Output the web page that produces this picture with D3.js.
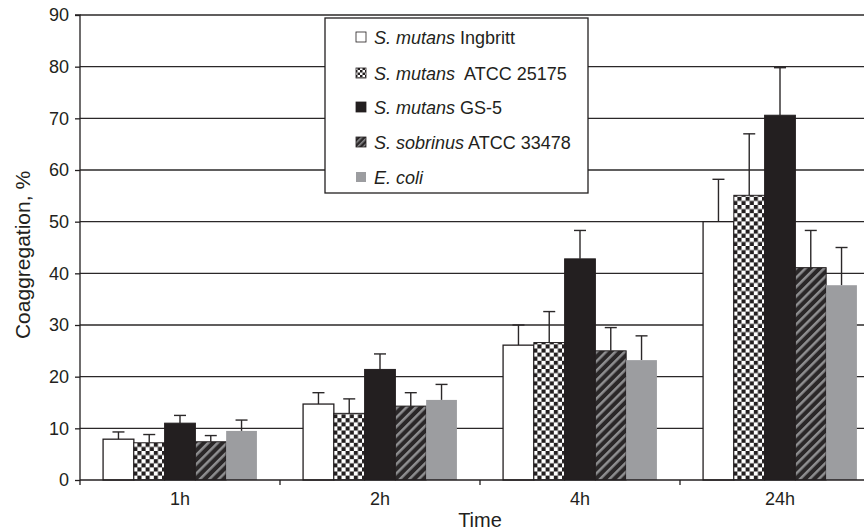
<!DOCTYPE html>
<html>
<head>
<meta charset="utf-8">
<script src="https://cdn.jsdelivr.net/npm/d3@7"></script>
<style>
  html, body { margin: 0; padding: 0; background: #fff; }
  svg { display: block; font-family: "Liberation Sans", Arial, sans-serif; }
  text { fill: #231f20; }
</style>
</head>
<body>
<svg id="chart" width="864" height="530"></svg>
<script>
// ---- data ----
const categories = ["1h", "2h", "4h", "24h"];
const seriesNames = ["S. mutans Ingbritt", "S. mutans ATCC 25175", "S. mutans GS-5", "S. sobrinus ATCC 33478", "E. coli"];
const ingbritt     = [7.9, 14.7, 26.1, 50.0];
const ingbrittSD   = [1.4, 2.2, 3.9, 8.2];
const atcc25175    = [7.2, 12.9, 26.6, 55.1];
const atcc25175SD  = [1.6, 2.8, 6.0, 11.9];
const gs5          = [11.0, 21.4, 42.8, 70.6];
const gs5SD        = [1.5, 3.0, 5.5, 9.2];
const sobrinus     = [7.4, 14.3, 25.0, 41.1];
const sobrinusSD   = [1.2, 2.6, 4.5, 7.2];
const ecoli        = [9.5, 15.5, 23.2, 37.7];
const ecoliSD      = [2.1, 3.0, 4.7, 7.3];
const yTicks = [0, 10, 20, 30, 40, 50, 60, 70, 80, 90];

const seriesValues = [ingbritt, atcc25175, gs5, sobrinus, ecoli];
const seriesSD = [ingbrittSD, atcc25175SD, gs5SD, sobrinusSD, ecoliSD];
const fills = ["#ffffff", "url(#checker)", "#231f20", "url(#stripes)", "#9c9da0"];
const legendFills = ["#ffffff", "url(#checkerS)", "#231f20", "url(#stripesS)", "#9c9da0"];
const legendLabels = [
  ["S. mutans", " Ingbritt"],
  ["S. mutans", "  ATCC 25175"],
  ["S. mutans", " GS-5"],
  ["S. sobrinus", " ATCC 33478"],
  ["E. coli", ""]
];

const svg = d3.select("#chart");
const margin = {left: 80, top: 15, bottom: 50};
const height = 530;
const y = d3.scaleLinear().domain([0, 90]).range([height - margin.bottom, margin.top]);
const x0 = d3.scaleBand().domain(categories).range([80, 880]).paddingInner(0).paddingOuter(0);
const x1 = d3.scaleBand().domain(d3.range(seriesNames.length)).range([0, x0.bandwidth()]).paddingInner(0).paddingOuter(0.75);

// ---- patterns ----
const defs = svg.append("defs");
function checker(id, size) {
  const p = defs.append("pattern").attr("id", id).attr("patternUnits", "userSpaceOnUse")
    .attr("width", size * 2).attr("height", size * 2);
  p.append("rect").attr("width", size * 2).attr("height", size * 2).attr("fill", "#fff");
  p.append("rect").attr("x", 0).attr("y", 0).attr("width", size).attr("height", size).attr("fill", "#231f20");
  p.append("rect").attr("x", size).attr("y", size).attr("width", size).attr("height", size).attr("fill", "#231f20");
}
function stripes(id, w) {
  const p = defs.append("pattern").attr("id", id).attr("patternUnits", "userSpaceOnUse")
    .attr("width", w).attr("height", w).attr("patternTransform", "rotate(45)");
  p.append("rect").attr("width", w).attr("height", w).attr("fill", "#2a2728");
  p.append("rect").attr("x", 0).attr("y", 0).attr("width", w * 0.38).attr("height", w).attr("fill", "#8e8e90");
}
checker("checker", 4.1);
stripes("stripes", 6.6);
checker("checkerS", 2.5);
stripes("stripesS", 4);

// ---- gridlines ----
svg.append("g").selectAll("line").data(yTicks.filter(d => d > 0)).join("line")
  .attr("x1", 80).attr("x2", 864)
  .attr("y1", d => y(d)).attr("y2", d => y(d))
  .attr("stroke", "#2b2829").attr("stroke-width", 1.3);

// ---- bars ----
const groups = svg.append("g").selectAll("g").data(categories).join("g")
  .attr("transform", d => `translate(${x0(d)},0)`);

groups.each(function(cat, ci) {
  const g = d3.select(this);
  seriesNames.forEach((s, si) => {
    const v = seriesValues[si][ci];
    const sd = seriesSD[si][ci];
    const bx = x1(si), bw = x1.bandwidth();
    const cx = bx + bw / 2;
    // error bar (upward only)
    g.append("line").attr("x1", cx).attr("x2", cx).attr("y1", y(v)).attr("y2", y(v + sd))
      .attr("stroke", "#2b2829").attr("stroke-width", 1.4);
    g.append("line").attr("x1", cx - 6).attr("x2", cx + 6).attr("y1", y(v + sd)).attr("y2", y(v + sd))
      .attr("stroke", "#2b2829").attr("stroke-width", 1.4);
    g.append("rect").attr("x", bx).attr("y", y(v)).attr("width", bw).attr("height", y(0) - y(v))
      .attr("fill", fills[si])
      .attr("stroke", si === 4 ? "none" : "#231f20")
      .attr("stroke-width", si === 0 ? 1.3 : 1);
  });
});

// ---- axes ----
const yAxis = d3.axisLeft(y).tickValues(yTicks).tickSize(5).tickPadding(6);
const gy = svg.append("g").attr("transform", "translate(80,0)").call(yAxis);
gy.selectAll("text").style("font-size", "18px").attr("fill", "#231f20");
gy.selectAll("line, path").attr("stroke", "#231f20").attr("stroke-width", 1.3);
gy.select("path").attr("d", `M-5,${y(90)}H0V${y(0) + 5}`);

const xAxis = d3.axisBottom(x0).tickSize(0).tickPadding(12);
const gx = svg.append("g").attr("transform", `translate(0,${y(0)})`).call(xAxis);
gx.select("path").remove();
gx.selectAll("text").style("font-size", "18px").attr("fill", "#231f20");
svg.append("line").attr("x1", 80).attr("x2", 864).attr("y1", y(0)).attr("y2", y(0))
  .attr("stroke", "#231f20").attr("stroke-width", 1.3);
// group separator ticks
svg.append("g").selectAll("line").data(categories.slice(1)).join("line")
  .attr("x1", d => x0(d)).attr("x2", d => x0(d))
  .attr("y1", y(0)).attr("y2", y(0) + 5)
  .attr("stroke", "#231f20").attr("stroke-width", 1.3);

// axis titles
svg.append("text").attr("x", 480).attr("y", 527).attr("text-anchor", "middle")
  .style("font-size", "20px").text("Time");
svg.append("text").attr("transform", "translate(30,255) rotate(-90)").attr("text-anchor", "middle")
  .style("font-size", "21px").text("Coaggregation, %");

// ---- legend ----
const lg = svg.append("g");
lg.append("rect").attr("x", 325).attr("y", 18).attr("width", 263).attr("height", 175)
  .attr("fill", "#fff").attr("stroke", "#231f20").attr("stroke-width", 1.3);
const rowY = [37, 73, 107, 142, 177];
legendLabels.forEach((lab, i) => {
  lg.append("rect").attr("x", 356).attr("y", rowY[i] - 5).attr("width", 10).attr("height", 10)
    .attr("fill", legendFills[i]).attr("stroke", i === 4 ? "none" : "#231f20").attr("stroke-width", 0.8);
  const t = lg.append("text").attr("x", 374).attr("y", rowY[i] + 6.5)
    .style("font-size", "18px").style("white-space", "pre");
  t.append("tspan").style("font-style", "italic").text(lab[0]);
  t.append("tspan").text(lab[1]);
});
</script>
</body>
</html>
